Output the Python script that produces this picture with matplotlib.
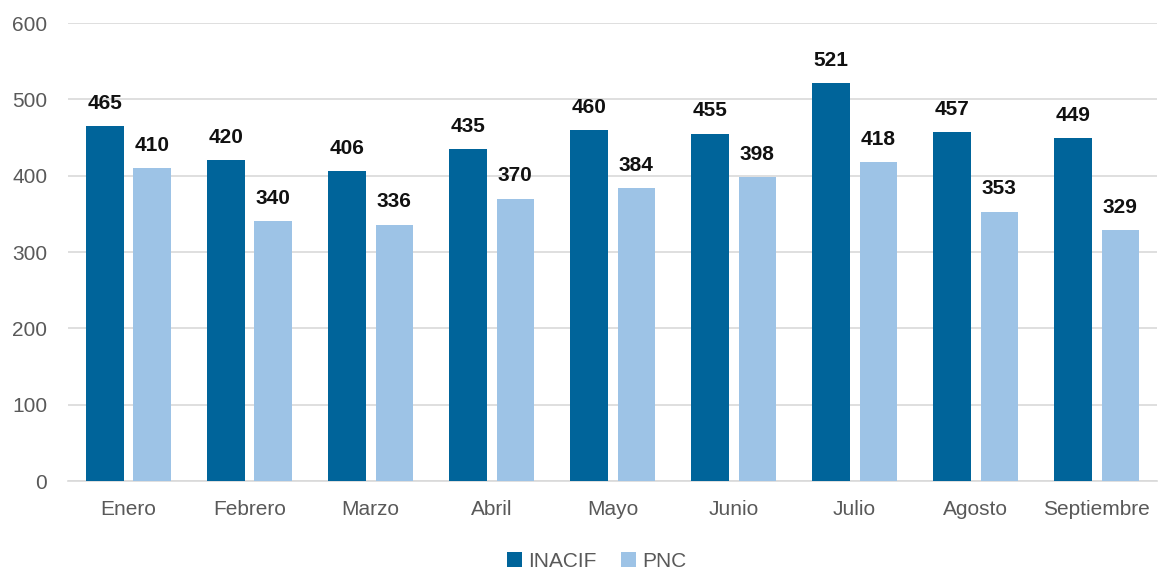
import matplotlib
matplotlib.use("Agg")
import matplotlib.pyplot as plt
import numpy as np

months = ["Enero", "Febrero", "Marzo", "Abril", "Mayo", "Junio", "Julio", "Agosto", "Septiembre"]
inacif = [465, 420, 406, 435, 460, 455, 521, 457, 449]
pnc = [410, 340, 336, 370, 384, 398, 418, 353, 329]
series_names = ["INACIF", "PNC"]
yticks = [0, 100, 200, 300, 400, 500, 600]

plt.rcParams["font.family"] = ["Liberation Sans", "DejaVu Sans"]

dark = "#00649A"
light = "#9DC3E6"
txt = "#595959"

fig = plt.figure(figsize=(11.61, 5.71), dpi=100)
ax = fig.add_axes([0.0586, 0.1576, 0.938, 0.8021])

x = np.arange(len(months))
w = 0.31
off = 0.196
b1 = ax.bar(x - off, inacif, w, color=dark, label=series_names[0], zorder=3)
b2 = ax.bar(x + off, pnc, w, color=light, label=series_names[1], zorder=3)

for bars in (b1, b2):
    for r in bars:
        ax.annotate(f"{int(r.get_height())}", (r.get_x() + r.get_width() / 2, r.get_height()),
                    xytext=(0, 9.5), textcoords="offset points", ha="center", va="bottom",
                    fontsize=15, fontweight="bold", color="#111111")

ax.set_xlim(-0.5, len(months) - 0.5)
ax.set_ylim(0, 600)
ax.set_yticks(yticks)
ax.set_xticks(x)
ax.set_xticklabels(months)
ax.yaxis.grid(True, color="#D9D9D9", linewidth=1.2, zorder=0)
ax.set_axisbelow(True)
for s in ["top", "right", "left"]:
    ax.spines[s].set_visible(False)
ax.spines["bottom"].set_color("#D9D9D9")
ax.spines["bottom"].set_linewidth(1.2)
ax.tick_params(axis="both", length=0, labelsize=15, labelcolor=txt)
ax.tick_params(axis="x", pad=14)
ax.tick_params(axis="y", pad=15)

fig.legend(handles=[b1, b2], loc="center", bbox_to_anchor=(0.514, 0.017),
           ncol=2, frameon=False, fontsize=15, handlelength=0.7, handleheight=0.7,
           handletextpad=0.3, columnspacing=1.2, labelcolor=txt)

fig.savefig("out.png", dpi=100)
